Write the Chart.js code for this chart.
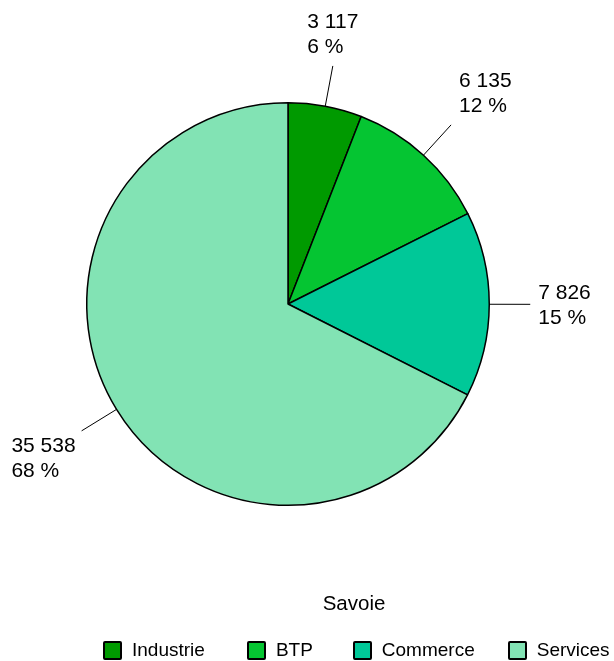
<!DOCTYPE html>
<html>
<head>
<meta charset="utf-8">
<script src="https://cdn.jsdelivr.net/npm/chart.js@4.4.1/dist/chart.umd.min.js"></script>
<style>
  body { margin: 0; background: #fff; font-family: "Liberation Sans", Arial, sans-serif; }
  #wrap { position: relative; width: 614px; height: 661px; overflow: hidden; }
  #pie { position: absolute; left: 0; top: 0; }
  #title { position: absolute; left: 0; width: 708px; top: 591px; text-align: center; font-size: 20.5px; color: #000; }
  #legend { position: absolute; left: 103px; top: 639px; display: flex; font-size: 19px; color: #000; white-space: nowrap; }
  .item { display: flex; align-items: center; }
  .box { width: 15px; height: 15px; border: 2px solid #000; border-radius: 2px; margin-right: 10px; }
</style>
</head>
<body>
<div id="wrap">
  <canvas id="pie" width="614" height="661"></canvas>
  <div id="title"></div>
  <div id="legend"></div>
</div>
<script>
const title = 'Savoie';
const categories = ['Industrie', 'BTP', 'Commerce', 'Services'];
const values = [3117, 6135, 7826, 35538];
const colors = ['#009a00', '#05c532', '#00c898', '#82e3b4'];
const legendGaps = [42, 40, 33, 0];

const total = values.reduce((a, b) => a + b, 0);
const fmt = (n) => String(n).replace(/\B(?=(\d{3})+(?!\d))/g, ' ');

// labels with leader lines, placed from the arc geometry
const outsideLabels = {
    id: 'outsideLabels',
    afterDatasetsDraw(chart) {
        const ctx = chart.ctx;
        const meta = chart.getDatasetMeta(0);
        ctx.save();
        ctx.font = '21px "Liberation Sans", Arial, sans-serif';
        ctx.fillStyle = '#000';
        ctx.strokeStyle = '#000';
        ctx.lineWidth = 1;
        meta.data.forEach((arc, i) => {
            const p = arc.getProps(['x', 'y', 'startAngle', 'endAngle', 'outerRadius'], true);
            const mid = (p.startAngle + p.endAngle) / 2;
            const c = Math.cos(mid), s = Math.sin(mid);
            const sx = p.x + c * p.outerRadius, sy = p.y + s * p.outerRadius;
            const ex = p.x + c * (p.outerRadius + 41), ey = p.y + s * (p.outerRadius + 41);
            ctx.beginPath();
            ctx.moveTo(sx, sy);
            ctx.lineTo(ex, ey);
            ctx.stroke();

            const lines = [fmt(values[i]), Math.round(values[i] / total * 100) + ' %'];
            const w = Math.max(...lines.map(t => ctx.measureText(t).width));
            let left;
            if (Math.abs(c) < 0.3) left = ex - w / 2;
            else if (c > 0) left = ex + 8;
            else left = ex - 6 - w;
            let base1;
            if (s < -0.3) base1 = ey - 13 - 25;
            else if (s > 0.3) base1 = ey + 21;
            else base1 = ey - 5;
            ctx.textAlign = 'left';
            ctx.textBaseline = 'alphabetic';
            ctx.fillText(lines[0], left, base1);
            ctx.fillText(lines[1], left, base1 + 25);
        });
        ctx.restore();
    }
};

new Chart(document.getElementById('pie'), {
    type: 'pie',
    data: {
        labels: categories,
        datasets: [{
            data: values,
            backgroundColor: colors,
            borderColor: '#000',
            borderWidth: 1.5
        }]
    },
    options: {
        responsive: false,
        animation: false,
        layout: { padding: { left: 86, right: 124, top: 102, bottom: 155 } },
        plugins: {
            legend: { display: false },
            tooltip: { enabled: false }
        }
    },
    plugins: [outsideLabels]
});

document.getElementById('title').textContent = title;
const legend = document.getElementById('legend');
categories.forEach((name, i) => {
    const item = document.createElement('div');
    item.className = 'item';
    item.style.marginRight = legendGaps[i] + 'px';
    const box = document.createElement('span');
    box.className = 'box';
    box.style.background = colors[i];
    const txt = document.createElement('span');
    txt.textContent = name;
    item.appendChild(box);
    item.appendChild(txt);
    legend.appendChild(item);
});
</script>
</body>
</html>
